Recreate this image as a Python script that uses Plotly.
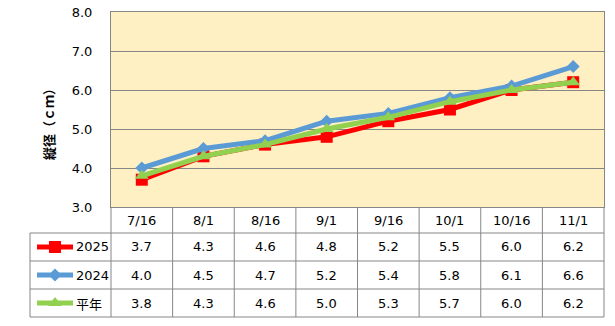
import plotly.graph_objects as go

# ---- data ----
dates = ["7/16", "8/1", "8/16", "9/1", "9/16", "10/1", "10/16", "11/1"]
s2025 = [3.7, 4.3, 4.6, 4.8, 5.2, 5.5, 6.0, 6.2]
s2024 = [4.0, 4.5, 4.7, 5.2, 5.4, 5.8, 6.1, 6.6]
normal = [3.8, 4.3, 4.6, 5.0, 5.3, 5.7, 6.0, 6.2]
y_ticks = [3.0, 4.0, 5.0, 6.0, 7.0, 8.0]

series = [
    ("2025", s2025, "#FF0000", "square"),
    ("2024", s2024, "#5B9BD5", "diamond"),
    ("平年", normal, "#92D050", "triangle-up"),
]

W, H = 615, 326
# plot area in pixels
PL, PR, PT, PB = 111, 604, 12, 207
# table geometry in pixels
TBL_LEFT = 30
ROW_EDGES = [207, 233, 261, 289, 317]
GRID = "#868686"
FONT = "DejaVu Sans, Verdana, sans-serif"
CJK = "Noto Sans CJK JP, sans-serif"
FS = 13


def px(x):
    return x / W


def py(y):
    return 1 - y / H


def msize(sym):
    return {"square": 12, "diamond": 10, "triangle-up": 12}[sym]


fig = go.Figure()

# main lines (drawn in the order red, blue, green)
for name, vals, color, sym in series:
    fig.add_trace(go.Scatter(
        x=dates, y=vals, mode="lines+markers", name=name,
        line=dict(color=color, width=5),
        marker=dict(symbol=sym, size=msize(sym), color=color),
        xaxis="x", yaxis="y", showlegend=False, cliponaxis=False,
    ))

shapes = []
annotations = []

# plot area fill, beneath the gridlines
shapes.append(dict(type="rect", xref="paper", yref="paper", layer="below",
                   x0=px(PL), x1=px(PR), y0=py(PB), y1=py(PT),
                   fillcolor="#FFF0C4", line=dict(width=0)))

# table: horizontal rules
for y in ROW_EDGES[1:]:
    shapes.append(dict(type="line", xref="paper", yref="paper",
                       x0=px(TBL_LEFT), x1=px(PR), y0=py(y), y1=py(y),
                       line=dict(color=GRID, width=1)))
# table: column rules
ncol = len(dates)
colw = (PR - PL) / ncol
for i in range(ncol + 1):
    x = PL + i * colw
    shapes.append(dict(type="line", xref="paper", yref="paper",
                       x0=px(x), x1=px(x), y0=py(ROW_EDGES[0]), y1=py(ROW_EDGES[-1]),
                       line=dict(color=GRID, width=1)))
shapes.append(dict(type="line", xref="paper", yref="paper",
                   x0=px(TBL_LEFT), x1=px(TBL_LEFT), y0=py(ROW_EDGES[1]), y1=py(ROW_EDGES[-1]),
                   line=dict(color=GRID, width=1)))

# header cells
hy = (ROW_EDGES[0] + ROW_EDGES[1]) / 2
for i, d in enumerate(dates):
    annotations.append(dict(xref="paper", yref="paper", x=px(PL + (i + 0.5) * colw), y=py(hy),
                            text=d, showarrow=False, xanchor="center", yanchor="middle",
                            font=dict(family=FONT, size=FS, color="black")))

# value rows with legend keys
for r, (name, vals, color, sym) in enumerate(series):
    cy = (ROW_EDGES[r + 1] + ROW_EDGES[r + 2]) / 2
    for i, v in enumerate(vals):
        annotations.append(dict(xref="paper", yref="paper", x=px(PL + (i + 0.5) * colw), y=py(cy),
                                text=f"{v:.1f}", showarrow=False, xanchor="center", yanchor="middle",
                                font=dict(family=FONT, size=FS, color="black")))
    shapes.append(dict(type="line", xref="paper", yref="paper",
                       x0=px(37), x1=px(73), y0=py(cy), y1=py(cy),
                       line=dict(color=color, width=5)))
    annotations.append(dict(xref="paper", yref="paper", x=px(74), y=py(cy),
                            text=name, showarrow=False, xanchor="left", yanchor="middle",
                            font=dict(family=CJK if name == "平年" else FONT, size=FS, color="black")))
    fig.add_trace(go.Scatter(
        x=[55], y=[cy], mode="markers", xaxis="x2", yaxis="y2", showlegend=False,
        marker=dict(symbol=sym, size=msize(sym), color=color),
        hoverinfo="skip",
    ))

# y-axis title
annotations.append(dict(xref="paper", yref="paper", x=px(48), y=py(121),
                        text="<b>縦径（ｃｍ）</b>", textangle=-90, showarrow=False,
                        xanchor="center", yanchor="middle",
                        font=dict(family=CJK, size=13, color="black")))

fig.update_layout(
    width=W, height=H,
    margin=dict(l=0, r=0, t=0, b=0, pad=0, autoexpand=False),
    paper_bgcolor="white",
    plot_bgcolor="rgba(0,0,0,0)",
    xaxis=dict(domain=[px(PL), px(PR)], range=[-0.5, ncol - 0.5],
               showticklabels=False, showgrid=False, zeroline=False,
               showline=True, linecolor=GRID, linewidth=1, mirror=True, fixedrange=True),
    yaxis=dict(domain=[py(PB), py(PT)], range=[3, 8], tickvals=y_ticks,
               ticktext=[f"{t:.1f}" for t in y_ticks],
               showgrid=True, gridcolor=GRID, gridwidth=1, zeroline=False,
               showline=True, linecolor=GRID, linewidth=1, mirror=True,
               ticks="", ticklabelstandoff=15,
               tickfont=dict(family=FONT, size=FS, color="black"), fixedrange=True),
    xaxis2=dict(domain=[0, 1], range=[0, W], visible=False, fixedrange=True),
    yaxis2=dict(domain=[0, 1], range=[H, 0], visible=False, fixedrange=True),
    shapes=shapes,
    annotations=annotations,
    showlegend=False,
)

fig.write_html("out.html")
